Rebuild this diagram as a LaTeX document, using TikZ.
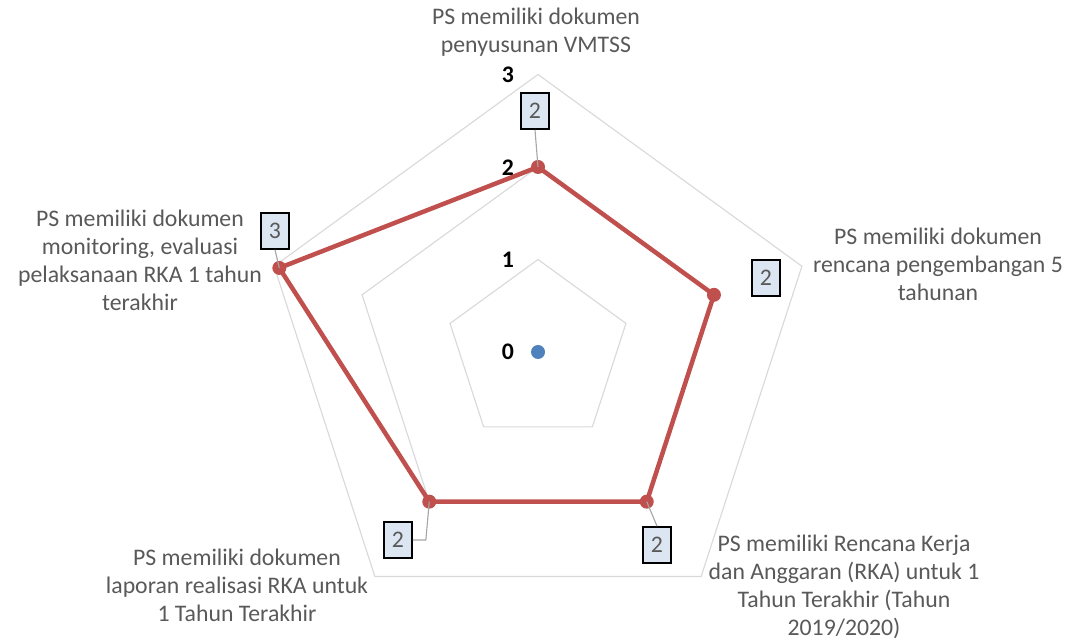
\documentclass[tikz,border=0pt]{standalone}
\usepackage{fontspec}
\setmainfont{Carlito}
\usetikzlibrary{calc}
\definecolor{gridgray}{HTML}{D9D9D9}
\definecolor{labelgray}{HTML}{595959}
\definecolor{leadgray}{HTML}{A6A6A6}
\definecolor{seriesred}{HTML}{C0504D}
\definecolor{seriesblue}{HTML}{4F81BD}
\definecolor{boxfill}{HTML}{DCE6F2}
\tikzset{
	catlabel/.style={text=labelgray, align=center, font=\fontsize{16.9}{19.9}\selectfont},
	ticklabel/.style={font=\fontsize{16.9}{19.9}\selectfont\bfseries},
	valbox/.style={draw=black, line width=1.2pt, fill=boxfill, text=labelgray, minimum width=0.7cm, minimum height=0.9cm, inner sep=0pt, font=\fontsize{16.9}{19.9}\selectfont},
	gridline/.style={draw=gridgray, line width=0.8pt},
	seriesline/.style={draw=seriesred, line width=3.2pt, line join=round},
	leader/.style={draw=leadgray, line width=0.8pt}
}
\begin{document}
\begin{tikzpicture}
		[x=0.025cm, y=0.025cm]
		\useasboundingbox (0,0) rectangle (1070,643);
		\coordinate (c) at (538,291);
		% grid
		\foreach \r in {1,2,3}{
			\draw[gridline] ($(c)+(90:92.5*\r)$) -- ($(c)+(18:92.5*\r)$) -- ($(c)+(-54:92.5*\r)$)
				-- ($(c)+(-126:92.5*\r)$) -- ($(c)+(162:92.5*\r)$) -- cycle;
		}
		\node[ticklabel] (t0) at (508,291) {0};
		\node[ticklabel] (t1) at (508,383) {1};
		\node[ticklabel] (t2) at (508,475) {2};
		\node[ticklabel] (t3) at (508,568) {3};
		% series
		\coordinate (p1) at ($(c)+(90:185)$);
		\coordinate (p2) at ($(c)+(18:185)$);
		\coordinate (p3) at ($(c)+(-54:185)$);
		\coordinate (p4) at ($(c)+(-126:185)$);
		\coordinate (p5) at ($(c)+(162:272)$);
		\draw[seriesline] (p1) -- (p2) -- (p3) -- (p4) -- (p5) -- cycle;
		\foreach \p in {p1,p2,p3,p4,p5}{
			\fill[seriesred] (\p) circle (7);
		}
		\fill[seriesblue] (c) circle (7);
		% data labels
		\node[valbox] (v1) at (535,532) {2};
		\node[valbox] (v2) at (766,365) {2};
		\node[valbox] (v3) at (657,98) {2};
		\node[valbox] (v4) at (398,103) {2};
		\node[valbox] (v5) at (275,412) {3};
		\draw[leader] (v1.south) -- (p1);
		\draw[leader] (v3.north) -- (p3);
		\draw[leader] (v4.east) -- ++(13,0) -- (p4);
		\draw[leader] (v5.south) -- (p5);
		% categories
		\node[catlabel] (k1) at (536,611) {PS memiliki dokumen\\penyusunan VMTSS};
		\node[catlabel] (k2) at (938,379) {PS memiliki dokumen\\rencana pengembangan 5\\tahunan};
		\node[catlabel] (k3) at (844,56) {PS memiliki Rencana Kerja\\dan Anggaran (RKA) untuk 1\\Tahun Terakhir (Tahun\\2019/2020)};
		\node[catlabel] (k4) at (237,58) {PS memiliki dokumen\\laporan realisasi RKA untuk\\1 Tahun Terakhir};
		\node[catlabel] (k5) at (140,383) {PS memiliki dokumen\\monitoring, evaluasi\\pelaksanaan RKA 1 tahun\\terakhir};
	\end{tikzpicture}
\end{document}
